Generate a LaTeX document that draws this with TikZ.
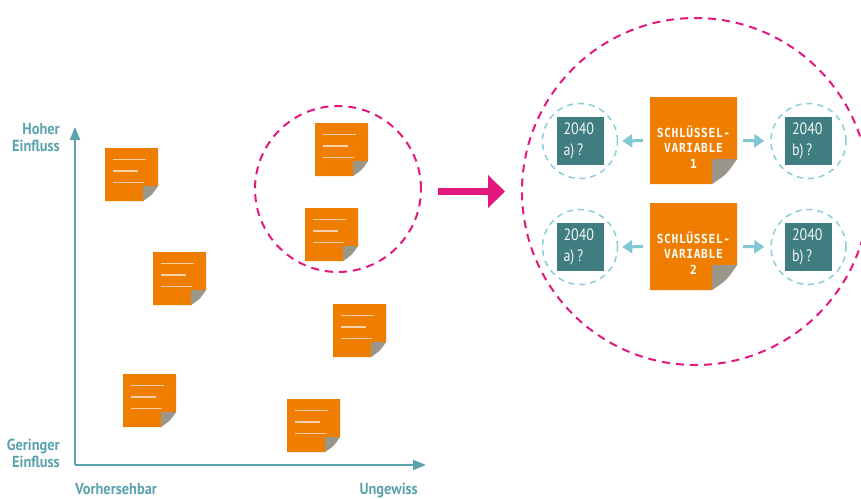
\documentclass[tikz,border=0pt]{standalone}
\usepackage{fontspec}
\usetikzlibrary{arrows.meta,calc}

\newfontfamily\axisfont{PT Sans Bold}[FakeStretch=0.9]
\newfontfamily\keyfont{DejaVu Sans Mono Bold}[FakeStretch=0.9,LetterSpace=5]
\newfontfamily\yearfont{PT Sans}[FakeStretch=0.85]

\definecolor{noteorange}{HTML}{EF7D00}
\definecolor{foldgray}{HTML}{9B968A}
\definecolor{noteline}{HTML}{FAD0A8}
\definecolor{yearteal}{HTML}{3F7D80}
\definecolor{axisteal}{HTML}{5AA3AD}
\definecolor{ringblue}{HTML}{8ACCD8}
\definecolor{arrowblue}{HTML}{7FC7D3}
\definecolor{magenta}{HTML}{E2187F}

\tikzset{
  notebox/.style={inner sep=0pt, outer sep=0pt, minimum size=#1},
  notestroke/.style={draw=noteline, line width=1.6pt},
  axisline/.style={draw=axisteal, line width=2pt, -{Triangle[width=10pt,length=13pt]}},
  axislabel/.style={inner sep=0pt, text=axisteal, font=\axisfont\fontsize{16}{17}\selectfont},
  clusterring/.style={circle, draw=magenta, line width=2pt, dash pattern=on 8pt off 6pt, inner sep=0pt, minimum size=#1},
  bigarrow/.style={draw=magenta, line width=7pt, -{Triangle[width=32pt,length=17pt]}},
  yearbox/.style={fill=yearteal, text=white!92!yearteal, inner xsep=7pt, inner ysep=0pt,
    minimum width=47pt, minimum height=48pt, text width=33pt, align=left,
    font=\yearfont\fontsize{16.5}{21}\selectfont},
  yearring/.style={circle, draw=ringblue, line width=1.5pt, dash pattern=on 6pt off 5pt,
    inner sep=0pt, minimum size=75pt},
  sidearrow/.style={draw=arrowblue, line width=3pt, -{Triangle[width=13pt,length=10pt]}},
  keytext/.style={text=white, align=center, inner sep=0pt,
    font=\keyfont\fontsize{12.5}{15.5}\selectfont},
}

% small sticky note: name, centre
\newcommand{\stickynote}[2]{%
  \node[notebox=53pt] (#1) at (#2) {};
  \fill[noteorange] (#1.north west) -- (#1.north east) -- ([yshift=15pt]#1.south east)
    -- ([xshift=-15pt]#1.south east) -- (#1.south west) -- cycle;
  \fill[foldgray] ([xshift=-15pt]#1.south east) -- ([xshift=-15pt,yshift=15pt]#1.south east)
    -- ([yshift=15pt]#1.south east) .. controls ([xshift=-6pt,yshift=6pt]#1.south east)
    .. ([xshift=-15pt]#1.south east) -- cycle;
  \draw[notestroke] ($(#1.north west)+(8,11.5)$) -- ++(33,0);
  \draw[notestroke] ($(#1.north west)+(8,23)$) -- ++(25,0);
  \draw[notestroke] ($(#1.north west)+(8,34.3)$) -- ++(31,0);
}

% large key-variable note: name, centre, number
\newcommand{\keynote}[3]{%
  \node[notebox=87pt] (#1) at (#2) {};
  \fill[noteorange] (#1.north west) -- (#1.north east) -- ([yshift=25pt]#1.south east)
    -- ([xshift=-25pt]#1.south east) -- (#1.south west) -- cycle;
  \fill[foldgray] ([xshift=-25pt]#1.south east) -- ([xshift=-25pt,yshift=25pt]#1.south east)
    -- ([yshift=25pt]#1.south east) .. controls ([xshift=-10pt,yshift=10pt]#1.south east)
    .. ([xshift=-25pt]#1.south east) -- cycle;
  \node[keytext] (#1label) at ($(#1.center)+(0,6.5)$) {SCHLÜSSEL-\\VARIABLE\\#3};
}

\begin{document}
\begin{tikzpicture}[x=1pt, y=-1pt]
  \useasboundingbox (0,0) rectangle (861,498);

  % axes
  \coordinate (origin) at (75,465);
  \coordinate (ytip) at (75,127);
  \coordinate (xtip) at (426,465);
  \draw[axisline] (origin) -- (ytip);
  \draw[axisline] (origin) -- (xtip);

  \node[axislabel, align=right, anchor=east] (high) at (60,138) {Hoher\\Einfluss};
  \node[axislabel, align=right, anchor=east] (low) at (60,453) {Geringer\\Einfluss};
  \node[axislabel, anchor=base west] (pred) at (75,494) {Vorhersehbar};
  \node[axislabel, anchor=base east] (unc) at (418,494) {Ungewiss};

  % scattered factors
  \stickynote{f1}{131.5,174.5}
  \stickynote{f2}{179.5,278.5}
  \stickynote{f3}{149.5,400.5}
  \stickynote{f4}{341.5,149.5}
  \stickynote{f5}{331.5,234.5}
  \stickynote{f6}{359.5,330.5}
  \stickynote{f7}{313.5,425.5}

  % selected cluster and zoom
  \node[clusterring=166pt] (cluster) at (338,189) {};
  \node[clusterring=347pt] (zoom) at (695.5,191.5) {};
  \coordinate (pa) at (438,191.5);
  \coordinate (pb) at (505,191.5);
  \draw[bigarrow] (pa) -- (pb);

  % key variables with their two futures
  \keynote{k1}{693.5,140.5}{1}
  \keynote{k2}{693.5,246.5}{2}

  \node[yearring] (r1a) at (580,141) {};
  \node[yearring] (r1b) at (808.5,141) {};
  \node[yearring] (r2a) at (580,247) {};
  \node[yearring] (r2b) at (808.5,247) {};

  \node[yearbox] (y1a) at (r1a) {2040\\a)\,?};
  \node[yearbox] (y1b) at (r1b) {2040\\b)\,?};
  \node[yearbox] (y2a) at (r2a) {2040\\a)\,?};
  \node[yearbox] (y2b) at (r2b) {2040\\b)\,?};

  \draw[sidearrow, shorten <=7pt, shorten >=4pt] (k1.west) -- (r1a.east);
  \draw[sidearrow, shorten <=6pt, shorten >=6pt] (k1.east) -- (r1b.west);
  \draw[sidearrow, shorten <=7pt, shorten >=4pt] (k2.west) -- (r2a.east);
  \draw[sidearrow, shorten <=6pt, shorten >=6pt] (k2.east) -- (r2b.west);
\end{tikzpicture}
\end{document}
